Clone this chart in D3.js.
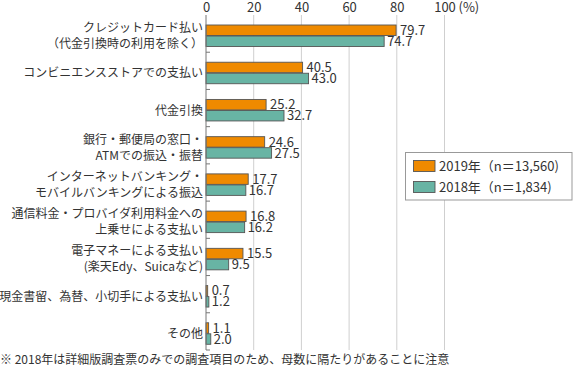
<!DOCTYPE html>
<html>
<head>
<meta charset="utf-8">
<script src="https://cdn.jsdelivr.net/npm/d3@7"></script>
<style>
  body { margin: 0; background: #fff; }
  text { font-family: "Noto Sans CJK JP", "Noto Sans", sans-serif; fill: #333; }
</style>
</head>
<body>
<div id="chart"></div>
<script>
const categories = [
    ["クレジットカード払い", "（代金引換時の利用を除く）"],
    ["コンビニエンスストアでの支払い"],
    ["代金引換"],
    ["銀行・郵便局の窓口・", "ATMでの振込・振替"],
    ["インターネットバンキング・", "モバイルバンキングによる振込"],
    ["通信料金・プロバイダ利用料金への", "上乗せによる支払い"],
    ["電子マネーによる支払い", "(楽天Edy、Suicaなど)"],
    ["現金書留、為替、小切手による支払い"],
    ["その他"]
];
const values2019 = [79.7, 40.5, 25.2, 24.6, 17.7, 16.8, 15.5, 0.7, 1.1];
const values2018 = [74.7, 43.0, 32.7, 27.5, 16.7, 16.2, 9.5, 1.2, 2.0];
const seriesNames = ["2019年（n＝13,560)", "2018年（n＝1,834)"];
const seriesColors = ["#ef8a00", "#68b4a4"];
const xTicks = [0, 20, 40, 60, 80, 100];
const footnote = "※ 2018年は詳細版調査票のみでの調査項目のため、母数に隔たりがあることに注意";

const width = 573;
const height = 368;

const svg = d3.select("#chart")
    .append("svg")
    .attr("width", width)
    .attr("height", height);

const x = d3.scaleLinear()
    .domain([0, 100])
    .range([206, 444.5]);

const y = d3.scaleBand()
    .domain(d3.range(categories.length))
    .range([15, 350]);

const inner = d3.scaleBand()
    .domain([0, 1])
    .range([10, 31.5])
    .paddingInner(0.05);

// gridlines
svg.append("g")
   .selectAll("line")
   .data(xTicks.slice(1))
   .enter()
   .append("line")
   .attr("x1", d => x(d))
   .attr("x2", d => x(d))
   .attr("y1", 15)
   .attr("y2", 350)
   .attr("stroke", "#cfcfcf")
   .attr("stroke-width", 1);

// top axis labels
const xAxis = svg.append("g")
   .attr("transform", "translate(0,12)")
   .call(d3.axisTop(x).tickValues(xTicks).tickSize(0).tickPadding(0));
xAxis.select(".domain").remove();
xAxis.selectAll("text")
   .style("font-size", "13px")
   .attr("fill", "#444")
   .attr("dy", "0");
svg.append("text")
   .attr("x", x(100) + 14)
   .attr("y", 12)
   .style("font-size", "13px")
   .attr("fill", "#444")
   .text("(%)");

// bars
const series = [values2019, values2018];
series.forEach((vals, s) => {
    svg.append("g")
       .selectAll("rect")
       .data(vals)
       .enter()
       .append("rect")
       .attr("x", x(0))
       .attr("y", (d, i) => y(i) + inner(s))
       .attr("width", d => x(d) - x(0))
       .attr("height", inner.bandwidth())
       .attr("fill", seriesColors[s])
       .attr("stroke", "#555")
       .attr("stroke-width", 0.9);

    svg.append("g")
       .selectAll("text")
       .data(vals)
       .enter()
       .append("text")
       .attr("x", d => x(d) + (s === 0 ? 4 : 3))
       .attr("y", (d, i) => y(i) + inner(s) + inner.bandwidth() / 2)
       .attr("dy", "0.36em")
       .style("font-size", "13px")
       .attr("fill", "#444")
       .text(d => d.toFixed(1));
});

// left axis line and ticks
svg.append("line")
   .attr("x1", x(0))
   .attr("x2", x(0))
   .attr("y1", 15)
   .attr("y2", 350)
   .attr("stroke", "#777")
   .attr("stroke-width", 1);

svg.append("g")
   .selectAll("line")
   .data(d3.range(1, categories.length + 1))
   .enter()
   .append("line")
   .attr("x1", x(0))
   .attr("x2", x(0) + 4)
   .attr("y1", d => d === categories.length ? 350 : y(d))
   .attr("y2", d => d === categories.length ? 350 : y(d))
   .attr("stroke", "#777");

// category labels
const labels = svg.append("g")
   .selectAll("text")
   .data(categories)
   .enter()
   .append("text")
   .attr("text-anchor", "end")
   .style("font-size", "12px")
   .attr("fill", "#333");

labels.each(function(lines, i){
    const cy = y(i) + (inner(0) + inner(1) + inner.bandwidth()) / 2;
    const lh = 16;
    const top = cy - (lines.length - 1) * lh / 2;
    d3.select(this)
      .selectAll("tspan")
      .data(lines)
      .enter()
      .append("tspan")
      .attr("x", 203)
      .attr("y", (d, j) => top + j * lh)
      .attr("dy", "0.36em")
      .text(d => d);
});

// legend
const legend = svg.append("g");
legend.append("rect")
   .attr("x", 405.5)
   .attr("y", 152.5)
   .attr("width", 166.5)
   .attr("height", 47.5)
   .attr("fill", "#fff")
   .attr("stroke", "#999");

seriesNames.forEach((name, s) => {
    legend.append("rect")
       .attr("x", 413.5)
       .attr("y", 160.5 + s * 21)
       .attr("width", 21.5)
       .attr("height", 11)
       .attr("fill", seriesColors[s])
       .attr("stroke", "#555")
       .attr("stroke-width", 0.9);
    legend.append("text")
       .attr("x", 439)
       .attr("y", 166 + s * 21)
       .attr("dy", "0.36em")
       .style("font-size", "13px")
       .attr("fill", "#333")
       .text(name);
});

// footnote
svg.append("text")
   .attr("x", 0)
   .attr("y", 364)
   .style("font-size", "12px")
   .attr("fill", "#333")
   .text(footnote);
</script>
</body>
</html>
